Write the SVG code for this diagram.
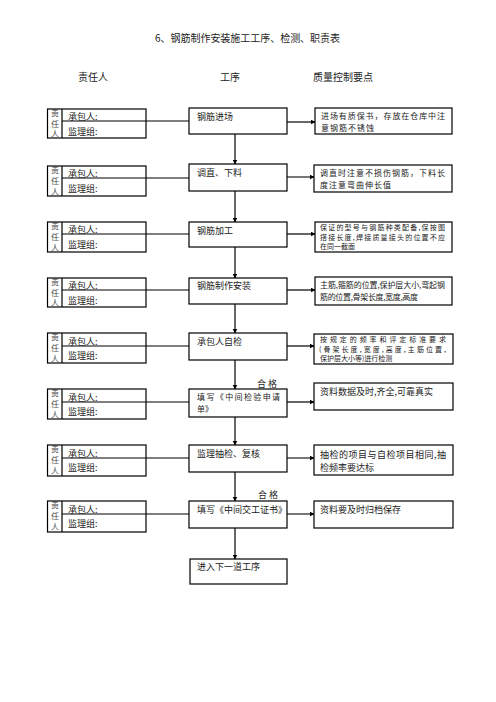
<svg xmlns="http://www.w3.org/2000/svg" width="496" height="702" viewBox="0 0 496 702">
<defs>
<style>
text{font-family:"Noto Sans CJK SC","Liberation Serif",serif;fill:#222;}
.t{font-size:9px;}
.m{font-size:8px;}
.c{font-size:7px;}
.s{font-size:8px;fill:#444;}
.h{font-size:10px;}
.b{fill:#fff;stroke:#000;stroke-width:1.2;}
.l{stroke:#000;stroke-width:1.2;fill:none;}
.g{stroke:#555;stroke-width:1.6;fill:none;}
</style>
<marker id="ah" viewBox="0 0 10 10" refX="9" refY="5" markerWidth="5" markerHeight="5" orient="auto" markerUnits="userSpaceOnUse"><path d="M0,0 L10,5 L0,10 z" fill="#000"/></marker>
</defs>
<rect width="496" height="702" fill="#fff"/>
<text x="155" y="42" class="h" textLength="185">6、钢筋制作安装施工工序、检测、职责表</text>
<text x="78" y="81" class="h">责任人</text>
<text x="220" y="81" class="h">工序</text>
<text x="313" y="81" class="h">质量控制要点</text>

<g id="connectors">
<path class="l" d="M146,121 H189 M146,178 H189 M146,234 H189 M146,290 H189 M146,346 H189 M146,402 H189 M146,458 H189 M146,514 H189"/>
<path class="l" d="M287,122 H315" marker-end="url(#ah)"/>
<path class="g" d="M287,177 H314" marker-end="url(#ah)"/>
<path class="l" d="M287,234 H315" marker-end="url(#ah)"/>
<path class="l" d="M287,290 H315" marker-end="url(#ah)"/>
<path class="l" d="M287,346 H314" marker-end="url(#ah)"/>
<path class="l" d="M287,402 H314" marker-end="url(#ah)"/>
<path class="g" d="M287,458 H314" marker-end="url(#ah)"/>
<path class="g" d="M287,514 H314" marker-end="url(#ah)"/>
<path class="l" d="M235,134 V164" marker-end="url(#ah)"/>
<path class="l" d="M235,191 V222" marker-end="url(#ah)"/>
<path class="l" d="M235,247 V278" marker-end="url(#ah)"/>
<path class="l" d="M235,304 V333" marker-end="url(#ah)"/>
<path class="l" d="M235,360 V389" marker-end="url(#ah)"/>
<path class="l" d="M235,417 V445" marker-end="url(#ah)"/>
<path class="l" d="M235,472 V501" marker-end="url(#ah)"/>
<path class="l" d="M235,528 V559" marker-end="url(#ah)"/>
<text x="257" y="387" class="t">合 格</text>
<text x="258" y="498" class="t">合 格</text>
</g>

<g id="r1"><rect class="b" x="47.5" y="109" width="98.5" height="29"/><path class="l" d="M62,109 V138 M62,121 H146"/><text class="s" x="51" y="116">责</text><text class="s" x="51" y="127">任</text><text class="s" x="51" y="137">人</text><text class="t" x="68" y="120">承包人:</text><text class="t" x="68" y="135">监理组:</text></g>
<g id="r2"><rect class="b" x="47.5" y="166" width="98.5" height="30"/><path class="l" d="M62,166 V196 M62,178 H146"/><text class="s" x="51" y="173">责</text><text class="s" x="51" y="184">任</text><text class="s" x="51" y="195">人</text><text class="t" x="68" y="177">承包人:</text><text class="t" x="68" y="192">监理组:</text></g>
<g id="r3"><rect class="b" x="47.5" y="222" width="98.5" height="30"/><path class="l" d="M62,222 V252 M62,234 H146"/><text class="s" x="51" y="229">责</text><text class="s" x="51" y="240">任</text><text class="s" x="51" y="251">人</text><text class="t" x="68" y="233">承包人:</text><text class="t" x="68" y="248">监理组:</text></g>
<g id="r4"><rect class="b" x="47.5" y="278" width="98.5" height="29"/><path class="l" d="M62,278 V307 M62,290 H146"/><text class="s" x="51" y="285">责</text><text class="s" x="51" y="296">任</text><text class="s" x="51" y="306">人</text><text class="t" x="68" y="289">承包人:</text><text class="t" x="68" y="304">监理组:</text></g>
<g id="r5"><rect class="b" x="47.5" y="333" width="98.5" height="30"/><path class="l" d="M62,333 V363 M62,346 H146"/><text class="s" x="51" y="340">责</text><text class="s" x="51" y="351">任</text><text class="s" x="51" y="362">人</text><text class="t" x="68" y="345">承包人:</text><text class="t" x="68" y="359">监理组:</text></g>
<g id="r6"><rect class="b" x="47.5" y="389" width="98.5" height="30"/><path class="l" d="M62,389 V419 M62,402 H146"/><text class="s" x="51" y="396">责</text><text class="s" x="51" y="407">任</text><text class="s" x="51" y="418">人</text><text class="t" x="68" y="401">承包人:</text><text class="t" x="68" y="415">监理组:</text></g>
<g id="r7"><rect class="b" x="47.5" y="445" width="98.5" height="31"/><path class="l" d="M62,445 V476 M62,458 H146"/><text class="s" x="51" y="452">责</text><text class="s" x="51" y="463">任</text><text class="s" x="51" y="474">人</text><text class="t" x="68" y="457">承包人:</text><text class="t" x="68" y="471">监理组:</text></g>
<g id="r8"><rect class="b" x="47.5" y="501" width="98.5" height="31"/><path class="l" d="M62,501 V532 M62,514 H146"/><text class="s" x="51" y="508">责</text><text class="s" x="51" y="519">任</text><text class="s" x="51" y="530">人</text><text class="t" x="68" y="513">承包人:</text><text class="t" x="68" y="527">监理组:</text></g>

<g id="p1"><rect class="b" x="189" y="108" width="98" height="26"/><text class="t" x="197" y="120">钢筋进场</text></g>
<g id="p2"><rect class="b" x="189" y="164" width="98" height="27"/><text class="t" x="197" y="176">调直、下料</text></g>
<g id="p3"><rect class="b" x="189" y="222" width="98" height="25"/><text class="t" x="197" y="234">钢筋加工</text></g>
<g id="p4"><rect class="b" x="189" y="278" width="98" height="26"/><text class="t" x="197" y="289">钢筋制作安装</text></g>
<g id="p5"><rect class="b" x="189" y="333" width="98" height="27"/><text class="t" x="197" y="345">承包人自检</text></g>
<g id="p6"><rect class="b" x="189" y="389" width="98" height="28"/><text class="m" x="197" y="399.5" textLength="83">填写《中间检验申请</text><text class="m" x="197" y="411.5">单》</text></g>
<g id="p7"><rect class="b" x="189" y="445" width="98" height="27"/><text class="t" x="197" y="457">监理抽检、复核</text></g>
<g id="p8"><rect class="b" x="189" y="501" width="98" height="27"/><text class="t" x="197" y="513">填写《中间交工证书》</text></g>
<g id="p9"><rect class="b" x="190" y="559" width="97" height="25"/><text class="t" x="197" y="570">进入下一道工序</text></g>

<g id="q1"><rect class="b" x="315" y="108" width="137" height="26"/><text class="m" x="321" y="118.5" textLength="124">进场有质保书，存放在仓库中注</text><text class="m" x="321" y="130.5" textLength="53">意钢筋不锈蚀</text></g>
<g id="q2"><rect class="b" x="314" y="165" width="138" height="27"/><text class="m" x="320" y="175.5" textLength="125">调直时注意不损伤钢筋，下料长</text><text class="m" x="320" y="187.5" textLength="71">度注意弯曲伸长值</text></g>
<g id="q3"><rect class="b" x="315" y="222" width="137" height="30"/><text class="c" x="320" y="230" textLength="125">保证的型号与钢筋种类配备,保按图</text><text class="c" x="320" y="239.5" textLength="125">搭接长度,焊接质量接头的位置不应</text><text class="c" x="320" y="249">在同一截面</text></g>
<g id="q4"><rect class="b" x="315" y="277" width="137" height="28"/><text class="m" x="320" y="287.5" textLength="125">主筋,箍筋的位置,保护层大小,弯起钢</text><text class="m" x="320" y="299.5" textLength="98">筋的位置,骨架长度,宽度,高度</text></g>
<g id="q5"><rect class="b" x="314" y="334" width="139" height="30"/><text class="c" x="320" y="342" textLength="126">按规定的频率和评定标准要求</text><text class="c" x="319" y="351.5" textLength="127">(骨架长度,宽度,高度,主筋位置,</text><text class="c" x="320" y="361">保护层大小等)进行检测</text></g>
<g id="q6"><rect class="b" x="314" y="383" width="139" height="27"/><text class="t" x="320" y="395">资料数据及时,齐全,可靠真实</text></g>
<g id="q7"><rect class="b" x="314" y="445" width="139" height="30"/><text class="t" x="320" y="457.5" textLength="126">抽检的项目与自检项目相同,抽</text><text class="t" x="320" y="470.5">检频率要达标</text></g>
<g id="q8"><rect class="b" x="314" y="501" width="139" height="27"/><text class="t" x="320" y="513">资料要及时归档保存</text></g>
</svg>
